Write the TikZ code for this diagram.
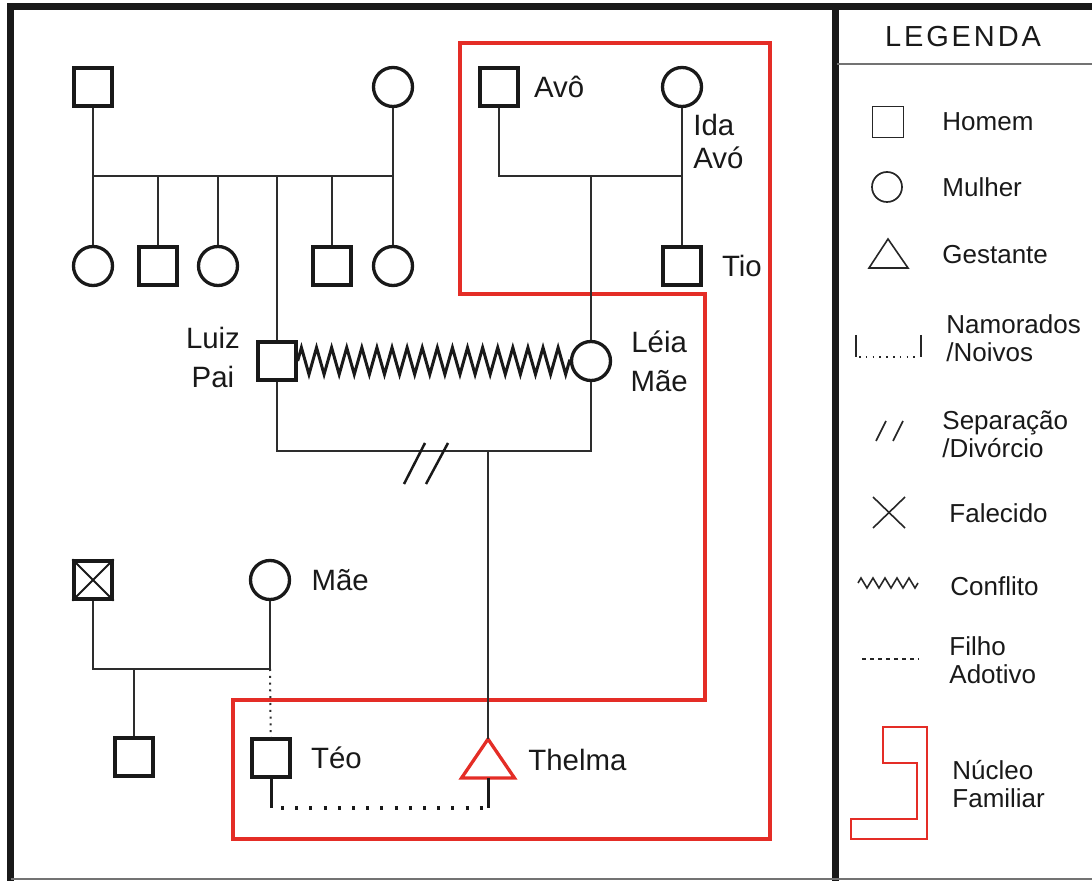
\documentclass[tikz,border=0pt]{standalone}
\usepackage{fontspec}
\setmainfont{Liberation Sans}
\newfontfamily\legendafont[LetterSpace=10]{Liberation Sans}
\usetikzlibrary{positioning, decorations.pathmorphing}
\definecolor{nucleored}{RGB}{228,45,38}
\definecolor{linhagray}{RGB}{45,45,45}
\tikzset{
  homem/.style={rectangle, draw=black!90, line width=1.65pt, minimum size=19pt,
    inner sep=0pt},
  mulher/.style={circle, draw=black!90, line width=1.65pt, minimum size=19.5pt,
    inner sep=0pt},
  gestnode/.style={rectangle, minimum width=26pt, minimum height=19pt, inner sep=0pt},
  gestante/.style={draw=nucleored, line width=1.65pt, line join=miter},
  ligacao/.style={draw=linhagray, line width=0.85pt},
  adotivo/.style={draw=linhagray, line width=1pt, dash pattern=on 1pt off 2.4pt},
  namoro/.style={draw=black!90, line width=1.5pt},
  namorodots/.style={draw=black!90, line width=1.6pt, dash pattern=on 1.5pt off 5.6pt},
  conflito/.style={draw=black!90, line width=1.5pt, decorate,
    decoration={zigzag, segment length=7.55pt, amplitude=6.7pt}},
  sepmark/.style={draw=black!90, line width=1.25pt},
  nucleo/.style={draw=nucleored, line width=1.65pt, line join=miter},
  moldura/.style={draw=black!90, line width=3.5pt},
  borda/.style={draw=black!55, line width=0.9pt},
  rotulo/.style={font=\fontsize{14.7}{19.5}\selectfont, inner sep=0pt, align=center,
    text=black!90},
  % legenda
  lghomem/.style={rectangle, draw=black!85, line width=0.85pt, minimum size=15.5pt,
    inner sep=0pt},
  lgmulher/.style={circle, draw=black!85, line width=0.85pt, minimum size=15pt,
    inner sep=0pt},
  lglinha/.style={draw=black!85, line width=0.8pt},
  legtexto/.style={font=\fontsize{13}{14}\selectfont, inner sep=0pt, align=left,
    anchor=west, text=black!90},
}
\begin{document}
\begin{tikzpicture}[x=0.5pt, y=-0.5pt]
  \useasboundingbox (0,0) rectangle (1092,881);
  % Moldura
  \draw[moldura] (10.5,881) -- (10.5,6.5) -- (1092,6.5);
  \draw[moldura] (835,6.5) -- (835,881);
  \draw[borda] (10.5,879) -- (1092,879);
  \draw[borda] (837,64) -- (1092,64);

  % Nucleo familiar
  \draw[nucleo] (460,43) -- (770,43) -- (770,839) -- (233,839) -- (233,700)
    -- (705,700) -- (705,294) -- (460,294) -- cycle;

  % Familia paterna
  \node[homem] (avoPat) at (93,87) {};
  \node[mulher] (avoaPat) at (393,87) {};
  \node[mulher] (irm1) at (93,266) {};
  \node[homem] (irm2) at (158,266) {};
  \node[mulher] (irm3) at (218,266) {};
  \node[homem] (irm4) at (332,266) {};
  \node[mulher] (irm5) at (393,266) {};
  \coordinate (barPat) at (93,176);
  \coordinate (barPatR) at (393,176);
  \draw[ligacao] (avoPat) -- (irm1);
  \draw[ligacao] (avoaPat) -- (irm5);
  \draw[ligacao] (barPat) -- (barPatR);
  \foreach \n in {irm2,irm3,irm4}
    \draw[ligacao] (\n) -- (\n |- barPat);

  % Familia materna
  \node[homem] (avo) at (499,87) {};
  \node[mulher] (ida) at (682,87) {};
  \node[homem] (tio) at (682,266) {};
  \coordinate (barMat) at (682,176);
  \draw[ligacao] (avo) |- (barMat);
  \draw[ligacao] (ida) -- (tio);
  \node[rotulo, right=7pt of avo] (lavo) {Avô};
  \node[rotulo, align=left, anchor=west,
    font=\fontsize{14.7}{16.5}\selectfont] (lida) at (693,141.5) {Ida\\Avó};
  \node[rotulo, right=9.5pt of tio] (ltio) {Tio};

  % Casal
  \node[homem] (luiz) at (277,361) {};
  \node[mulher] (leia) at (591,361) {};
  \draw[ligacao] (luiz) -- (luiz |- barPat);
  \draw[ligacao] (leia) -- (leia |- barMat);
  \draw[conflito] (luiz) -- (leia);
  \node[rotulo, left=8pt of luiz, yshift=2pt] (lluiz) {Luiz\\Pai};
  \node[rotulo, right=9pt of leia] (lleia) {Léia\\Mãe};
  \coordinate (casal) at (488,451);
  \draw[ligacao] (luiz) |- (casal) -| (leia);
  % separacao
  \draw[sepmark] (404,484) -- (425,443);
  \draw[sepmark] (426,484) -- (448,443);

  % Familia de Teo
  \node[homem] (paiTeo) at (93,580) {};
  \draw[line width=1pt, black!90] (paiTeo.north west) -- (paiTeo.south east)
    (paiTeo.south west) -- (paiTeo.north east);
  \node[mulher] (maeTeo) at (270,580) {};
  \node[rotulo, right=10pt of maeTeo] (lmae) {Mãe};
  \node[homem] (irmTeo) at (134,757) {};
  \coordinate (barTeo) at (270,669);
  \draw[ligacao] (paiTeo) |- (barTeo) -- (maeTeo);
  \draw[ligacao] (irmTeo) -- (irmTeo |- barTeo);

  % Teo e Thelma
  \node[homem] (teo) at (271,758) {};
  \node[rotulo, right=9.5pt of teo] (lteo) {Téo};
  \node[gestnode] (thelma) at (488,758.5) {};
  \draw[gestante] (thelma.north) -- (thelma.south east) -- (thelma.south west) -- cycle;
  \node[rotulo, anchor=west] (lthelma) at (528,760) {Thelma};
  \draw[adotivo] (barTeo) -- (teo);
  \draw[ligacao] (casal) -- (thelma.north);
  \coordinate (namo) at (488,808);
  \draw[namoro] (teo) -- (teo |- namo);
  \draw[namoro] (thelma.south) -- (namo);
  \draw[namorodots] ([xshift=5pt]teo |- namo) -- (namo);

  % Legenda
  \node[font=\legendafont\fontsize{14.5}{16}\selectfont, text=black!90] (legenda)
    at (963,37) {LEGENDA};
  \node[lghomem] (lgHomem) at (888,122) {};
  \node[legtexto] (tHomem) at (942,122) {Homem};
  \node[lgmulher] (lgMulher) at (887,187) {};
  \node[legtexto] (tMulher) at (942,187) {Mulher};
  \draw[lglinha] (888,239) -- (908,268) -- (869,268) -- cycle;
  \node[legtexto] (tGestante) at (942,255) {Gestante};
  \draw[lglinha] (856,335) -- (856,357);
  \draw[lglinha] (921,335) -- (921,357);
  \draw[lglinha, dash pattern=on 0.8pt off 2.6pt] (859,357) -- (919,357);
  \node[legtexto] (tNamorados) at (946,338.5) {Namorados\\/Noivos};
  \draw[lglinha] (876,441) -- (886,421);
  \draw[lglinha] (893,441) -- (903,421);
  \node[legtexto] (tSeparacao) at (942,434) {Separação\\/Divórcio};
  \draw[lglinha] (873,497) -- (905,528);
  \draw[lglinha] (873,528) -- (905,497);
  \node[legtexto] (tFalecido) at (949,513) {Falecido};
  \draw[lglinha, decorate, decoration={zigzag, segment length=6pt, amplitude=2.5pt}]
    (858,583) -- (918,583);
  \node[legtexto] (tConflito) at (950,586) {Conflito};
  \draw[lglinha, dash pattern=on 2pt off 2pt] (862,659) -- (919,659);
  \node[legtexto] (tAdotivo) at (949,660) {Filho\\Adotivo};
  \draw[nucleo, line width=1pt] (883,727) -- (927,727) -- (927,839) -- (851,839)
    -- (851,819) -- (917,819) -- (917,763) -- (883,763) -- cycle;
  \node[legtexto] (tNucleo) at (952,784) {Núcleo\\Familiar};
\end{tikzpicture}
\end{document}
